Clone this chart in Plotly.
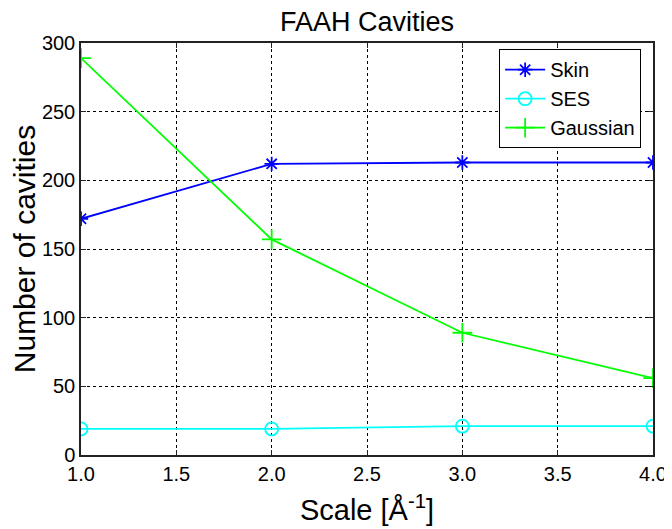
import plotly.graph_objects as go

scale = [1.0, 2.0, 3.0, 4.0]
skin = [172, 212, 213, 213]
ses = [19, 19, 21, 21]
gaussian = [289, 157, 89, 56]

# The page body has an 8px default margin, so the figure is sized/placed to compensate.
fig = go.Figure()
fig.add_trace(go.Scatter(x=scale, y=skin, name="Skin", mode="lines+markers",
                         line=dict(color="#0000ff", width=1.8),
                         marker=dict(symbol="asterisk-open", size=12, line=dict(color="#0000ff", width=1.8))))
fig.add_trace(go.Scatter(x=scale, y=ses, name="SES", mode="lines+markers",
                         line=dict(color="#00ffff", width=1.8),
                         marker=dict(symbol="circle-open", size=13, line=dict(color="#00ffff", width=1.8))))
fig.add_trace(go.Scatter(x=scale, y=gaussian, name="Gaussian", mode="lines+markers",
                         line=dict(color="#00ff00", width=1.8),
                         marker=dict(symbol="cross-thin-open", size=14, line=dict(color="#00ff00", width=1.8))))

font = "Liberation Sans, Arial, sans-serif"
fig.update_layout(
    width=664, height=521,
    margin=dict(l=73, r=19, t=35, b=74),
    paper_bgcolor="white", plot_bgcolor="white",
    font=dict(family=font, color="black", size=20),
    title=dict(text="FAAH Cavities", x=0.5, xref="paper", xanchor="center",
               y=1, yref="paper", yanchor="bottom", pad=dict(b=12),
               font=dict(size=27, family=font, color="black")),
    legend=dict(x=0.731, y=0.985, xanchor="left", yanchor="top",
                bgcolor="white", bordercolor="black", borderwidth=1,
                font=dict(size=20, family=font, color="black"),
                tracegroupgap=0, itemwidth=40),
    showlegend=True,
)
fig.update_xaxes(range=[1, 4], tickvals=[1.0, 1.5, 2.0, 2.5, 3.0, 3.5, 4.0],
                 ticktext=["1.0", "1.5", "2.0", "2.5", "3.0", "3.5", "4.0"],
                 automargin=False,
                 showline=True, linecolor="#222222", linewidth=1.5, mirror="ticks",
                 ticks="inside", ticklen=5, tickcolor="#222222",
                 showgrid=True, gridcolor="black", griddash="dot", gridwidth=1,
                 zeroline=False, tickfont=dict(size=20),
                 title=dict(text="Scale [Å<sup>-1</sup>]", font=dict(size=29), standoff=16))
fig.update_yaxes(range=[0, 300], tickvals=[0, 50, 100, 150, 200, 250, 300],
                 automargin=False,
                 showline=True, linecolor="#222222", linewidth=1.5, mirror="ticks",
                 ticks="inside", ticklen=5, tickcolor="#222222",
                 showgrid=True, gridcolor="black", griddash="dot", gridwidth=1,
                 zeroline=False, tickfont=dict(size=20),
                 title=dict(text="Number of cavities", font=dict(size=30), standoff=1))

fig.write_html("out.html")
